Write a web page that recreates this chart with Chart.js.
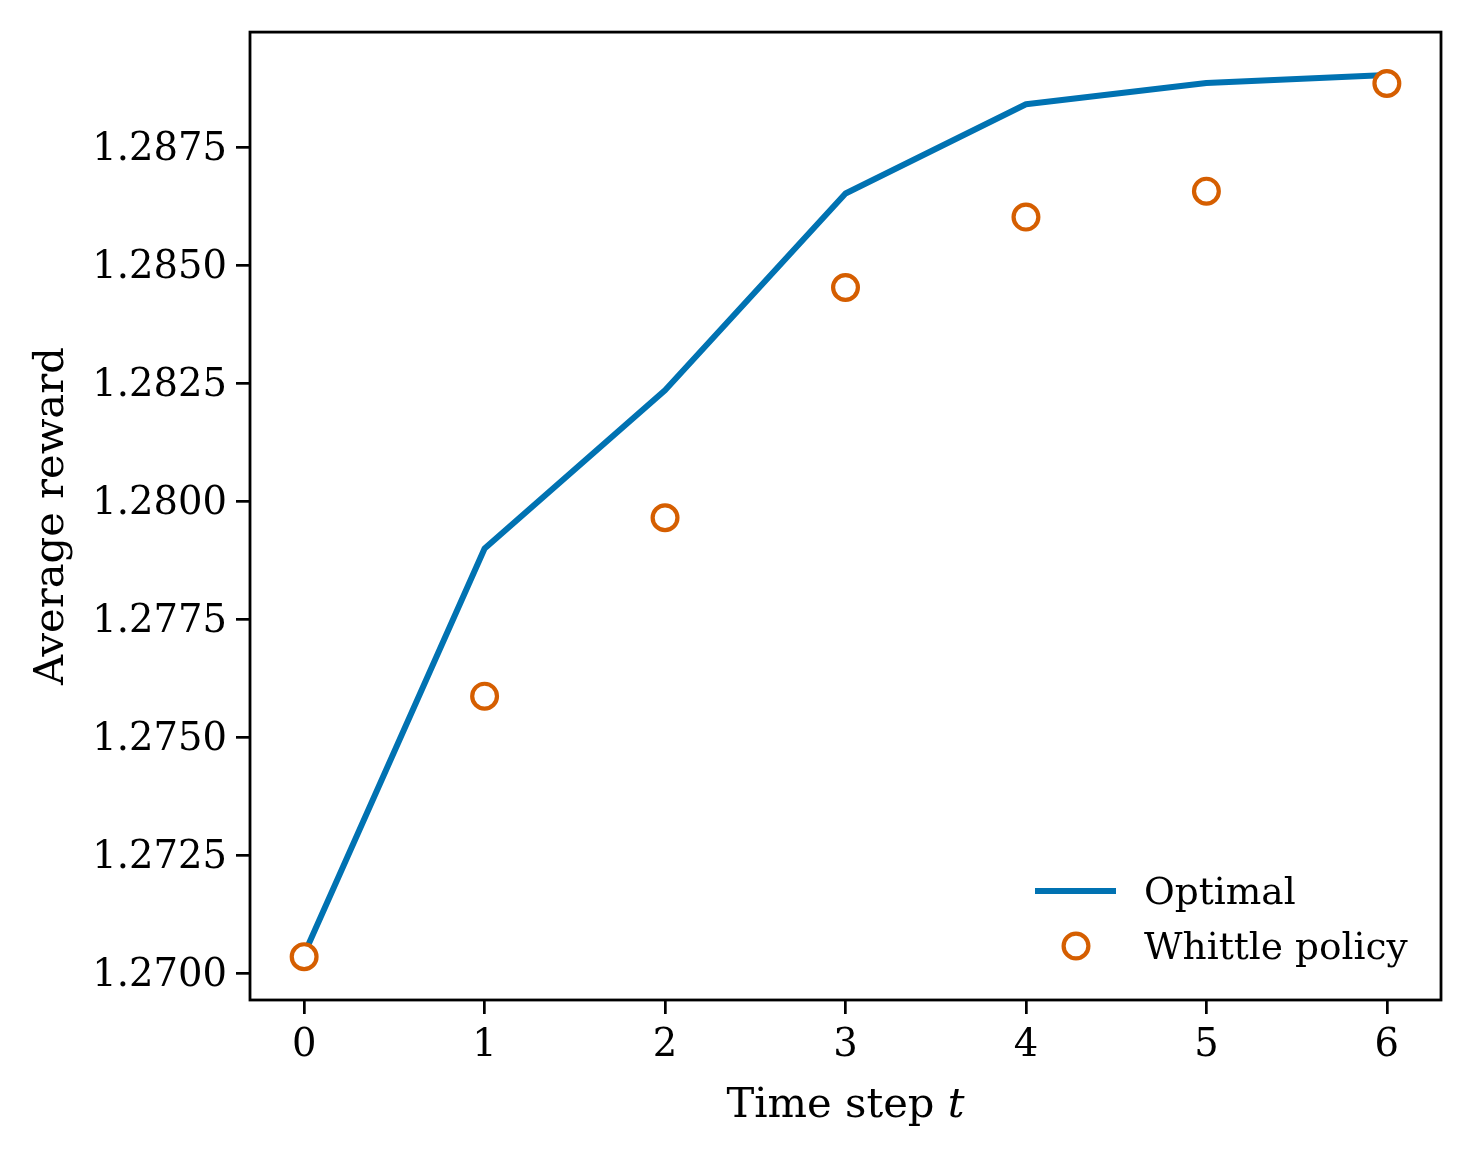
<!DOCTYPE html>
<html><head><meta charset="utf-8">
<script src="https://cdn.jsdelivr.net/npm/chart.js@4.4.1/dist/chart.umd.min.js"></script>
<style>html,body{margin:0;padding:0;background:#fff;overflow:hidden}</style>
</head><body>
<canvas id="c" width="1470" height="1158" style="width:1470px;height:1158px;display:block"></canvas>
<script>
const timeSteps = [0, 1, 2, 3, 4, 5, 6];
const optimalReward = [1.27041, 1.27901, 1.28236, 1.28653, 1.28842, 1.28887, 1.28904];
const whittleReward = [1.27036, 1.27588, 1.27966, 1.28454, 1.28603, 1.28658, 1.28886];
const xTicks = [0, 1, 2, 3, 4, 5, 6];
const yTicks = [1.2700, 1.2725, 1.2750, 1.2775, 1.2800, 1.2825, 1.2850, 1.2875];
const seriesLabels = ['Optimal', 'Whittle policy'];
const xTitle = 'Time step ';
const xTitleMath = 't';
const yTitle = 'Average reward';

const BLUE = '#0072B2', ORANGE = '#D55E00';
const FONT = '"DejaVu Serif", "Liberation Serif", serif';

const framePlugin = {
  id: 'frame',
  afterDraw(chart) {
    const {ctx, chartArea: a} = chart;
    ctx.save();
    ctx.strokeStyle = '#000';
    ctx.lineWidth = 2.8;
    ctx.strokeRect(a.left, a.top, a.right - a.left, a.bottom - a.top);
    // legend
    const ds = chart.data.datasets;
    ctx.lineWidth = 6;
    ctx.lineCap = 'butt';
    ctx.strokeStyle = ds[0].borderColor;
    ctx.beginPath(); ctx.moveTo(1035, 891); ctx.lineTo(1116, 891); ctx.stroke();
    ctx.beginPath(); ctx.arc(1076, 946, 12.4, 0, Math.PI * 2);
    ctx.fillStyle = '#fff'; ctx.fill();
    ctx.lineWidth = 4.2; ctx.strokeStyle = ds[1].borderColor; ctx.stroke();
    ctx.fillStyle = '#000';
    ctx.font = '37.5px ' + FONT;
    ctx.textBaseline = 'alphabetic';
    ctx.textAlign = 'left';
    ctx.fillText(ds[0].label, 1144, 904);
    ctx.fillText(ds[1].label, 1144, 959);
    // x title
    ctx.font = '41.7px ' + FONT;
    const w1 = ctx.measureText(xTitle).width;
    ctx.font = 'italic 41.7px ' + FONT;
    const w2 = ctx.measureText(xTitleMath).width;
    const cx = (a.left + a.right) / 2;
    let sx = cx - (w1 + w2) / 2;
    ctx.font = '41.7px ' + FONT;
    ctx.fillText(xTitle, sx, 1117);
    ctx.font = 'italic 41.7px ' + FONT;
    ctx.fillText(xTitleMath, sx + w1, 1117);
    // y title
    ctx.save();
    ctx.translate(63, (a.top + a.bottom) / 2);
    ctx.rotate(-Math.PI / 2);
    ctx.font = '41.7px ' + FONT;
    ctx.textAlign = 'center';
    ctx.fillText(yTitle, 0, 0);
    ctx.restore();
    ctx.restore();
  }
};

new Chart(document.getElementById('c'), {
  type: 'scatter',
  data: {
    datasets: [
      {
        label: seriesLabels[0],
        data: timeSteps.map((t, i) => ({x: t, y: optimalReward[i]})),
        showLine: true,
        borderColor: BLUE,
        backgroundColor: BLUE,
        borderWidth: 6,
        pointRadius: 0,
        pointHoverRadius: 0,
        borderJoinStyle: 'round',
        borderCapStyle: 'butt',
        order: 1
      },
      {
        label: seriesLabels[1],
        data: timeSteps.map((t, i) => ({x: t, y: whittleReward[i]})),
        showLine: false,
        borderColor: ORANGE,
        backgroundColor: '#fff',
        pointRadius: 12.4,
        pointBorderWidth: 4.2,
        pointHoverRadius: 12.4,
        order: 0
      }
    ]
  },
  options: {
    responsive: false,
    devicePixelRatio: 1,
    animation: false,
    layout: {padding: {left: 0, right: 29, top: 31, bottom: 0}},
    plugins: {legend: {display: false}, tooltip: {enabled: false}, title: {display: false}},
    scales: {
      x: {
        type: 'linear',
        min: -0.3, max: 6.3,
        afterBuildTicks: s => { s.ticks = xTicks.map(v => ({value: v})); },
        afterFit: s => { s.height = 158; },
        grid: {display: true, drawOnChartArea: false, drawTicks: true, tickLength: 14, tickWidth: 2.7, tickColor: '#000', lineWidth: 2.7, color: '#000'},
        border: {display: false},
        ticks: {color: '#000', font: {family: FONT, size: 38.5}, padding: 9, maxRotation: 0, autoSkip: false, callback: v => String(v)},
        title: {display: false}
      },
      y: {
        type: 'linear',
        min: 1.269442, max: 1.28995,
        afterBuildTicks: s => { s.ticks = yTicks.map(v => ({value: v})); },
        afterFit: s => { s.width = 250; },
        grid: {display: true, drawOnChartArea: false, drawTicks: true, tickLength: 14, tickWidth: 2.7, tickColor: '#000', lineWidth: 2.7, color: '#000'},
        border: {display: false},
        ticks: {color: '#000', font: {family: FONT, size: 38.5}, padding: 9, labelOffset: 2, autoSkip: false, callback: v => v.toFixed(4)},
        title: {display: false}
      }
    }
  },
  plugins: [framePlugin]
});
</script>
</body></html>
